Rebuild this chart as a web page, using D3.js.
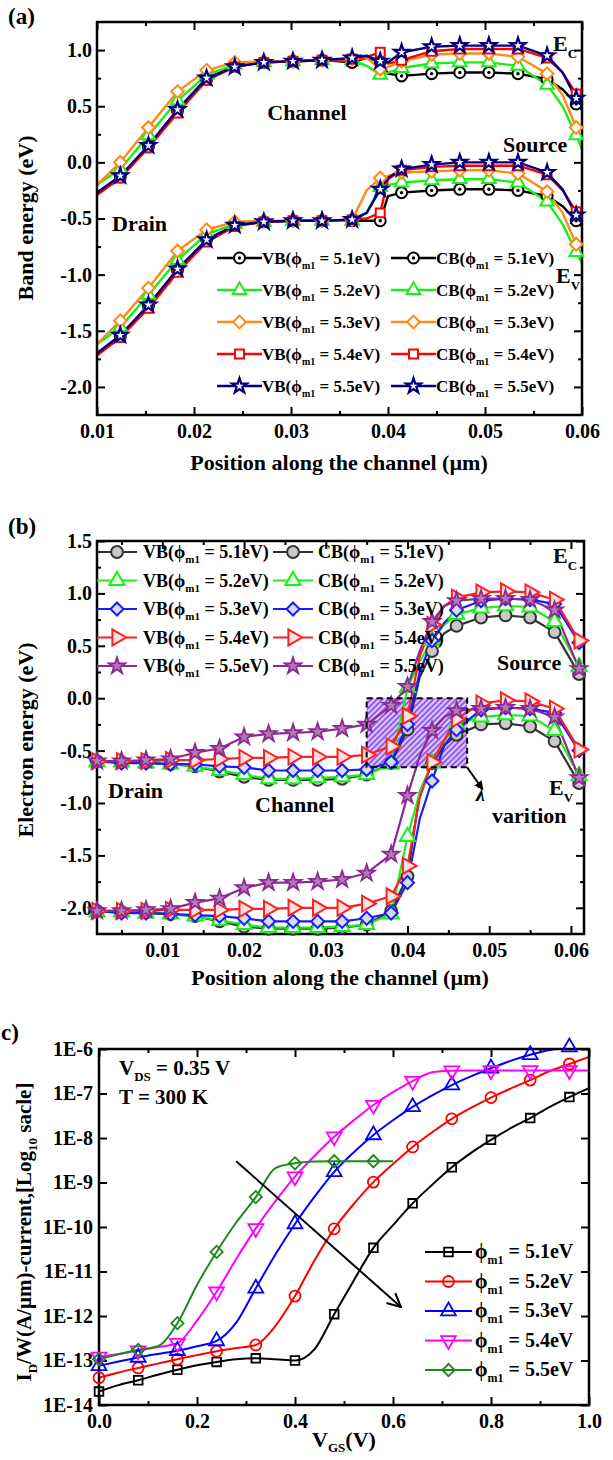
<!DOCTYPE html>
<html>
<head>
<meta charset="utf-8">
<script src="https://cdn.jsdelivr.net/npm/d3@7"></script>
<style>
  body { margin: 0; background: #fff; }
  svg text { font-family: "Liberation Serif", "Times New Roman", Times, serif; font-weight: bold; fill: #000; white-space: pre; }
</style>
</head>
<body>
<div id="chart"></div>
<script>
// ---------- panel (a): band energy vs position ----------
const phiValues = ["5.1", "5.2", "5.3", "5.4", "5.5"];

const posA = [0.0100, 0.0124, 0.0153, 0.0183, 0.0213, 0.0242, 0.0272, 0.0302, 0.0332, 0.0363, 0.0378,
              0.0392, 0.0400, 0.0414, 0.0445, 0.0474, 0.0504, 0.0534, 0.0564, 0.0580, 0.0594, 0.0600];
const markPosA = [0.0124, 0.0153, 0.0183, 0.0213, 0.0242, 0.0272, 0.0302, 0.0332, 0.0363, 0.0392,
                  0.0414, 0.0445, 0.0474, 0.0504, 0.0534, 0.0564, 0.0594];

const cbA51 = [-0.27, -0.13, 0.14, 0.46, 0.74, 0.86, 0.89, 0.90, 0.91, 0.89, 0.93, 0.90, 0.79, 0.77, 0.79, 0.80, 0.80, 0.79, 0.74, 0.65, 0.52, 0.47];
const cbA52 = [-0.20, -0.06, 0.24, 0.55, 0.78, 0.87, 0.89, 0.90, 0.91, 0.91, 0.86, 0.78, 0.80, 0.84, 0.88, 0.89, 0.89, 0.86, 0.69, 0.50, 0.24, 0.12];
const cbA53 = [-0.20, 0.00, 0.31, 0.63, 0.82, 0.89, 0.90, 0.90, 0.91, 0.92, 0.93, 0.83, 0.85, 0.90, 0.96, 0.97, 0.97, 0.94, 0.79, 0.60, 0.31, 0.19];
const cbA54 = [-0.29, -0.14, 0.13, 0.44, 0.73, 0.85, 0.89, 0.90, 0.91, 0.92, 0.94, 0.98, 0.88, 0.91, 0.99, 1.01, 1.01, 1.01, 0.93, 0.80, 0.61, 0.55];
const cbA55 = [-0.27, -0.12, 0.15, 0.47, 0.75, 0.85, 0.89, 0.90, 0.91, 0.93, 0.95, 0.90, 0.89, 0.98, 1.03, 1.04, 1.04, 1.04, 0.95, 0.80, 0.57, 0.52];

const vbA51 = [-1.70, -1.55, -1.28, -0.96, -0.69, -0.56, -0.53, -0.52, -0.52, -0.52, -0.52, -0.52, -0.30, -0.27, -0.25, -0.24, -0.24, -0.25, -0.30, -0.39, -0.52, -0.57];
const vbA52 = [-1.62, -1.47, -1.18, -0.87, -0.64, -0.55, -0.53, -0.52, -0.52, -0.52, -0.45, -0.22, -0.20, -0.18, -0.16, -0.15, -0.15, -0.18, -0.35, -0.55, -0.80, -0.90];
const vbA53 = [-1.62, -1.41, -1.12, -0.79, -0.60, -0.53, -0.52, -0.52, -0.52, -0.51, -0.25, -0.14, -0.12, -0.09, -0.08, -0.07, -0.07, -0.10, -0.26, -0.45, -0.73, -0.85];
const vbA54 = [-1.72, -1.56, -1.30, -0.98, -0.71, -0.57, -0.53, -0.52, -0.52, -0.51, -0.50, -0.45, -0.15, -0.07, -0.04, -0.03, -0.03, -0.03, -0.11, -0.25, -0.44, -0.50];
const vbA55 = [-1.70, -1.54, -1.27, -0.95, -0.69, -0.56, -0.53, -0.52, -0.52, -0.51, -0.45, -0.24, -0.14, -0.06, -0.02, 0.00, 0.00, 0.00, -0.09, -0.24, -0.47, -0.52];

// ---------- panel (b): electron energy vs position ----------
const posB = [0.002, 0.005, 0.008, 0.011, 0.014, 0.017, 0.020, 0.023, 0.026, 0.029, 0.032, 0.035,
              0.038, 0.040, 0.0415, 0.043, 0.0445, 0.046, 0.049, 0.052, 0.055, 0.058, 0.061];
const markPosB = [0.002, 0.005, 0.008, 0.011, 0.014, 0.017, 0.020, 0.023, 0.026, 0.029, 0.032, 0.035,
                  0.038, 0.040, 0.043, 0.046, 0.049, 0.052, 0.055, 0.058, 0.061];

const cbB51 = [-0.60, -0.61, -0.61, -0.63, -0.65, -0.70, -0.75, -0.78, -0.78, -0.78, -0.77, -0.73, -0.62, -0.30, 0.20, 0.45, 0.62, 0.69, 0.77, 0.79, 0.77, 0.63, 0.23];
const cbB52 = [-0.61, -0.61, -0.62, -0.63, -0.65, -0.69, -0.73, -0.77, -0.77, -0.76, -0.75, -0.73, -0.63, 0.10, 0.35, 0.55, 0.70, 0.80, 0.86, 0.88, 0.87, 0.73, 0.30];
const cbB53 = [-0.60, -0.62, -0.62, -0.63, -0.63, -0.65, -0.66, -0.69, -0.69, -0.69, -0.69, -0.68, -0.61, -0.25, 0.25, 0.55, 0.72, 0.84, 0.93, 0.95, 0.94, 0.90, 0.53];
const cbB54 = [-0.60, -0.60, -0.60, -0.59, -0.59, -0.58, -0.57, -0.57, -0.56, -0.56, -0.56, -0.54, -0.46, -0.17, 0.40, 0.70, 0.88, 0.96, 1.01, 1.02, 1.01, 0.94, 0.55];
const cbB55 = [-0.60, -0.60, -0.59, -0.58, -0.52, -0.48, -0.37, -0.34, -0.33, -0.32, -0.29, -0.25, -0.07, 0.11, 0.45, 0.73, 0.88, 0.93, 0.95, 0.95, 0.94, 0.84, 0.28];

const vbB51 = [-2.03, -2.04, -2.04, -2.06, -2.08, -2.13, -2.18, -2.20, -2.20, -2.20, -2.19, -2.16, -2.03, -1.70, -0.90, -0.62, -0.45, -0.35, -0.25, -0.24, -0.27, -0.41, -0.81];
const vbB52 = [-2.04, -2.04, -2.05, -2.06, -2.08, -2.12, -2.16, -2.19, -2.19, -2.19, -2.18, -2.16, -2.06, -1.32, -0.90, -0.62, -0.40, -0.25, -0.18, -0.16, -0.17, -0.31, -0.74];
const vbB53 = [-2.03, -2.05, -2.05, -2.06, -2.07, -2.08, -2.10, -2.13, -2.13, -2.13, -2.13, -2.10, -2.05, -1.76, -1.15, -0.79, -0.45, -0.30, -0.11, -0.09, -0.10, -0.14, -0.50];
const vbB54 = [-2.03, -2.03, -2.03, -2.02, -2.02, -2.02, -2.01, -2.01, -2.00, -2.00, -2.00, -1.96, -1.89, -1.60, -0.95, -0.61, -0.40, -0.20, -0.05, -0.02, -0.03, -0.10, -0.49];
const vbB55 = [-2.03, -2.03, -2.02, -2.01, -1.95, -1.91, -1.81, -1.76, -1.76, -1.75, -1.73, -1.67, -1.49, -0.93, -0.55, -0.31, -0.18, -0.12, -0.10, -0.09, -0.10, -0.18, -0.76];

// hatched lambda region and its arrow (data coordinates)
const lambdaBox = { x0: 0.035, x1: 0.0473, y0: -0.66, y1: 0.0 };
const lambdaArrow = { x0: 0.0473, y0: -0.66, x1: 0.0492, y1: -0.87 };

// ---------- panel (c): drain current vs gate voltage ----------
const vgs = [0.00, 0.04, 0.08, 0.12, 0.16, 0.20, 0.24, 0.28, 0.32, 0.36, 0.40, 0.44, 0.48,
             0.52, 0.56, 0.60, 0.64, 0.68, 0.72, 0.76, 0.80, 0.84, 0.88, 0.92, 0.96, 1.00];
const vgsMarks = [0.00, 0.08, 0.16, 0.24, 0.32, 0.40, 0.48, 0.56, 0.64, 0.72, 0.80, 0.88, 0.96];

const id51 = [2.0e-14, 2.8e-14, 3.6e-14, 4.8e-14, 6.2e-14, 7.8e-14, 9.3e-14, 1.07e-13, 1.12e-13, 1.07e-13, 1.0e-13, 1.8e-13, 1.1e-12,
              6.3e-12, 3.4e-11, 1.1e-10, 3.4e-10, 8.9e-10, 2.2e-9, 4.7e-9, 9.1e-9, 1.66e-8, 2.8e-8, 5.0e-8, 8.3e-8, 1.32e-7];
const id52 = [4.1e-14, 5.4e-14, 6.8e-14, 8.5e-14, 1.07e-13, 1.32e-13, 1.62e-13, 1.9e-13, 2.24e-13, 6.0e-13, 2.8e-12, 1.8e-11, 9.1e-11,
              3.3e-10, 1.02e-9, 2.6e-9, 6.3e-9, 1.35e-8, 2.7e-8, 4.8e-8, 8.1e-8, 1.29e-7, 2.0e-7, 3.2e-7, 4.6e-7, 6.6e-7];
const id53 = [7.6e-14, 9.5e-14, 1.17e-13, 1.4e-13, 1.66e-13, 2.1e-13, 2.75e-13, 7.1e-13, 4.2e-12, 2.4e-11, 1.17e-10, 4.8e-10, 1.74e-9,
              4.8e-9, 1.17e-8, 2.5e-8, 5.0e-8, 9.1e-8, 1.55e-7, 2.45e-7, 3.7e-7, 5.4e-7, 7.4e-7, 9.5e-7, 1.1e-6, 1.07e-6];
const id54 = [1.2e-13, 1.4e-13, 1.66e-13, 2.0e-13, 2.45e-13, 7.9e-13, 3.5e-12, 1.9e-11, 9.3e-11, 3.8e-10, 1.35e-9, 4.0e-9, 1.07e-8,
              2.5e-8, 5.5e-8, 1.07e-7, 1.9e-7, 3.0e-7, 3.25e-7, 3.3e-7, 3.3e-7, 3.3e-7, 3.3e-7, 3.3e-7, 3.3e-7, 3.3e-7];
const id55 = [1.07e-13, 1.38e-13, 1.74e-13, 2.1e-13, 6.9e-13, 5.0e-12, 2.75e-11, 1.26e-10, 4.7e-10, 2.1e-9, 2.7e-9, 2.95e-9, 3.0e-9,
              3.0e-9, 3.0e-9, 3.0e-9, null, null, null, null, null, null, null, null, null, null];

const trendArrow = { x0: 0.28, y0: 3.0e-9, x1: 0.616, y1: 1.6e-12 };

// ---------- drawing helpers ----------
const svg = d3.select("#chart").append("svg").attr("width", 613).attr("height", 1460);
const defs = svg.append("defs");

const symbolTypes = {
  circle: d3.symbolCircle, circleDot: d3.symbolCircle, triUp: d3.symbolTriangle,
  triDown: d3.symbolTriangle, triRight: d3.symbolTriangle, diamond: d3.symbolSquare,
  square: d3.symbolSquare, star: d3.symbolStar
};
const symbolRotate = { triDown: 180, triRight: 90, diamond: 45 };

function addMarker(parent, m, cx, cy) {
  const g = parent.append("g").attr("transform", `translate(${cx},${cy})`);
  g.append("path")
    .attr("d", d3.symbol().type(symbolTypes[m.shape]).size(m.size)())
    .attr("transform", `rotate(${symbolRotate[m.shape] || 0})`)
    .attr("fill", m.fill).attr("stroke", m.color).attr("stroke-width", m.sw);
  if (m.shape === "circleDot") g.append("circle").attr("r", 1.7).attr("fill", m.color);
  return g;
}

// text made of parts, each [string, isSubscript]
function rich(parent, parts, size, shift) {
  const t = parent.append("text").attr("font-size", size);
  let cur = 0;
  parts.forEach(([s, sub]) => {
    const sp = t.append("tspan").text(s);
    const target = sub ? shift : 0;
    if (target !== cur) sp.attr("dy", target - cur);
    cur = target;
    if (sub) sp.attr("font-size", Math.round(size * 0.6));
  });
  return t;
}

function drawPanel(cfg) {
  const g = svg.append("g");
  const x = d3.scaleLinear().domain(cfg.xDomain).range([cfg.left, cfg.right]);
  const y = (cfg.logY ? d3.scaleLog() : d3.scaleLinear()).domain(cfg.yDomain).range([cfg.bottom, cfg.top]);

  defs.append("clipPath").attr("id", "clip-" + cfg.id).append("rect")
    .attr("x", cfg.left).attr("y", cfg.top)
    .attr("width", cfg.right - cfg.left).attr("height", cfg.bottom - cfg.top);

  const noDomain = s => s.select(".domain").remove();
  const styleTicks = s => {
    s.selectAll("line").attr("stroke-width", 2);
    s.selectAll("text").attr("font-size", cfg.tickFont);
  };
  const ax = g.append("g");
  // bottom with labels, top mirrored
  ax.append("g").attr("transform", `translate(0,${cfg.bottom})`)
    .call(d3.axisBottom(x).tickValues(cfg.xTicks).tickSizeInner(-8).tickSizeOuter(0).tickPadding(cfg.xPad).tickFormat(cfg.xFormat))
    .call(noDomain).call(styleTicks);
  ax.append("g").attr("transform", `translate(0,${cfg.bottom})`)
    .call(d3.axisBottom(x).tickValues(cfg.xMinor).tickSize(-4).tickFormat(""))
    .call(noDomain).call(styleTicks);
  ax.append("g").attr("transform", `translate(0,${cfg.top})`)
    .call(d3.axisTop(x).tickValues(cfg.xTicks).tickSize(-8).tickFormat(""))
    .call(noDomain).call(styleTicks);
  ax.append("g").attr("transform", `translate(0,${cfg.top})`)
    .call(d3.axisTop(x).tickValues(cfg.xMinor).tickSize(-4).tickFormat(""))
    .call(noDomain).call(styleTicks);
  // left with labels, right mirrored
  ax.append("g").attr("transform", `translate(${cfg.left},0)`)
    .call(d3.axisLeft(y).tickValues(cfg.yTicks).tickSizeInner(-8).tickSizeOuter(0).tickPadding(cfg.yPad).tickFormat(cfg.yFormat))
    .call(noDomain).call(styleTicks);
  ax.append("g").attr("transform", `translate(${cfg.right},0)`)
    .call(d3.axisRight(y).tickValues(cfg.yTicks).tickSize(-8).tickFormat(""))
    .call(noDomain).call(styleTicks);
  if (cfg.yMinor.length) {
    ax.append("g").attr("transform", `translate(${cfg.left},0)`)
      .call(d3.axisLeft(y).tickValues(cfg.yMinor).tickSize(-4).tickFormat(""))
      .call(noDomain).call(styleTicks);
    ax.append("g").attr("transform", `translate(${cfg.right},0)`)
      .call(d3.axisRight(y).tickValues(cfg.yMinor).tickSize(-4).tickFormat(""))
      .call(noDomain).call(styleTicks);
  }

  const plot = g.append("g").attr("clip-path", `url(#clip-${cfg.id})`);
  const frame = g.append("rect")
    .attr("x", cfg.left).attr("y", cfg.top)
    .attr("width", cfg.right - cfg.left).attr("height", cfg.bottom - cfg.top)
    .attr("fill", "none").attr("stroke", "#000").attr("stroke-width", 2.5);

  return { g, x, y, plot, frame };
}

function drawSeries(p, xs, ys, marks, st, curve) {
  const pts = xs.map((v, i) => [v, ys[i]]);
  const line = d3.line().defined(d => d[1] != null)
    .x(d => p.x(d[0])).y(d => p.y(d[1])).curve(curve || d3.curveLinear);
  p.plot.append("path").attr("d", line(pts))
    .attr("fill", "none").attr("stroke", st.color).attr("stroke-width", st.lw).attr("stroke-linejoin", "round");
  pts.filter(d => d[1] != null && marks.includes(d[0]))
    .forEach(d => addMarker(p.g, st, p.x(d[0]), p.y(d[1])));
}

const fix = n => v => v.toFixed(n);

// ================= PANEL (a) =================
const pa = drawPanel({
  id: "a", left: 97, right: 582, top: 22, bottom: 415,
  xDomain: [0.01, 0.06], yDomain: [-2.25, 1.25],
  xTicks: [0.01, 0.02, 0.03, 0.04, 0.05, 0.06], xMinor: [0.015, 0.025, 0.035, 0.045, 0.055],
  yTicks: [-2.0, -1.5, -1.0, -0.5, 0.0, 0.5, 1.0], yMinor: [-1.75, -1.25, -0.75, -0.25, 0.25, 0.75],
  xFormat: fix(2), yFormat: fix(1), xPad: 9, yPad: 5, tickFont: 20
});

const styleA = [
  { color: "#000000", shape: "circleDot", size: 95, fill: "#fff", sw: 2, lw: 2.4 },
  { color: "#19ef19", shape: "triUp", size: 80, fill: "#fff", sw: 2, lw: 2.4 },
  { color: "#ff8a14", shape: "diamond", size: 80, fill: "#fff", sw: 2, lw: 2.4 },
  { color: "#ff0000", shape: "square", size: 80, fill: "#fff", sw: 2, lw: 2.4 },
  { color: "#000080", shape: "star", size: 70, fill: "#fff", sw: 2.2, lw: 2.4 }
];
const cbA = [cbA51, cbA52, cbA53, cbA54, cbA55];
const vbA = [vbA51, vbA52, vbA53, vbA54, vbA55];
phiValues.forEach((phi, i) => {
  drawSeries(pa, posA, vbA[i], markPosA, styleA[i]);
  drawSeries(pa, posA, cbA[i], markPosA, styleA[i]);
});

svg.append("text").attr("x", 8).attr("y", 24).attr("font-size", 23).text("(a)");
svg.append("text").attr("x", 307).attr("y", 120).attr("font-size", 22).attr("text-anchor", "middle").text("Channel");
svg.append("text").attr("x", 112).attr("y", 231).attr("font-size", 22).text("Drain");
svg.append("text").attr("x", 503).attr("y", 152).attr("font-size", 22).text("Source");
rich(svg, [["E", false], ["C", true]], 22, 7).attr("x", 553).attr("y", 51);
rich(svg, [["E", false], ["V", true]], 22, 7).attr("x", 556).attr("y", 283);
svg.append("text").attr("font-size", 22).attr("text-anchor", "middle")
  .attr("transform", "translate(33,218) rotate(-90)").text("Band energy (eV)");
svg.append("text").attr("x", 339).attr("y", 470).attr("font-size", 22).attr("text-anchor", "middle")
  .text("Position along the channel (\u00b5m)");

// legend (a)
const legA = svg.append("g");
phiValues.forEach((phi, i) => {
  const yy = 258 + 32 * i;
  [["VB", 217, 262], ["CB", 391, 436]].forEach(([band, x0, tx]) => {
    legA.append("line").attr("x1", x0).attr("x2", x0 + 45).attr("y1", yy).attr("y2", yy)
      .attr("stroke", styleA[i].color).attr("stroke-width", 2.4);
    addMarker(legA, styleA[i], x0 + 22.5, yy);
    rich(legA, [[band + "(\u03d5", false], ["m1", true], [" = " + phi + "eV)", false]], 17, 5)
      .attr("x", tx).attr("y", yy + 6);
  });
});

// ================= PANEL (b) =================
const pb = drawPanel({
  id: "b", left: 97, right: 584, top: 541, bottom: 934,
  xDomain: [0.002, 0.0616], yDomain: [-2.25, 1.5],
  xTicks: [0.01, 0.02, 0.03, 0.04, 0.05, 0.06], xMinor: [0.005, 0.015, 0.025, 0.035, 0.045, 0.055],
  yTicks: [-2.0, -1.5, -1.0, -0.5, 0.0, 0.5, 1.0, 1.5], yMinor: [-1.75, -1.25, -0.75, -0.25, 0.25, 0.75, 1.25],
  xFormat: fix(2), yFormat: fix(1), xPad: 9, yPad: 5, tickFont: 20
});

// hatch pattern for the lambda region
const hatch = defs.append("pattern").attr("id", "hatch").attr("patternUnits", "userSpaceOnUse")
  .attr("width", 4).attr("height", 4).attr("patternTransform", "rotate(45)");
hatch.append("rect").attr("width", 4).attr("height", 4).attr("fill", "#d9c8fb");
hatch.append("line").attr("x1", 1).attr("x2", 1).attr("y1", 0).attr("y2", 4)
  .attr("stroke", "#8440e6").attr("stroke-width", 1.6);
pb.plot.append("rect")
  .attr("x", pb.x(lambdaBox.x0)).attr("y", pb.y(lambdaBox.y1))
  .attr("width", pb.x(lambdaBox.x1) - pb.x(lambdaBox.x0)).attr("height", pb.y(lambdaBox.y0) - pb.y(lambdaBox.y1))
  .attr("fill", "url(#hatch)");

const styleB = [
  { color: "#333333", shape: "circle", size: 110, fill: "#c8c8c8", sw: 2, lw: 2.2 },
  { color: "#1eee1e", shape: "triUp", size: 100, fill: "#e4fbe4", sw: 2, lw: 2.2 },
  { color: "#1a1aff", shape: "diamond", size: 85, fill: "#d4dbf2", sw: 2, lw: 2.2 },
  { color: "#ff2020", shape: "triRight", size: 110, fill: "#fbe1e1", sw: 2, lw: 2.2 },
  { color: "#8b2a93", shape: "star", size: 85, fill: "#b27bb8", sw: 1.8, lw: 2.2 }
];
const cbB = [cbB51, cbB52, cbB53, cbB54, cbB55];
const vbB = [vbB51, vbB52, vbB53, vbB54, vbB55];
phiValues.forEach((phi, i) => {
  drawSeries(pb, posB, vbB[i], markPosB, styleB[i]);
  drawSeries(pb, posB, cbB[i], markPosB, styleB[i]);
});

pb.g.append("rect")
  .attr("x", pb.x(lambdaBox.x0)).attr("y", pb.y(lambdaBox.y1))
  .attr("width", pb.x(lambdaBox.x1) - pb.x(lambdaBox.x0)).attr("height", pb.y(lambdaBox.y0) - pb.y(lambdaBox.y1))
  .attr("fill", "none").attr("stroke", "#000").attr("stroke-width", 2).attr("stroke-dasharray", "6,4");

defs.append("marker").attr("id", "headFilled").attr("viewBox", "0 -5 10 10")
  .attr("refX", 9).attr("refY", 0).attr("markerWidth", 9).attr("markerHeight", 9)
  .attr("markerUnits", "userSpaceOnUse").attr("orient", "auto")
  .append("path").attr("d", "M0,-5L10,0L0,5Z").attr("fill", "#000");
pb.g.append("line")
  .attr("x1", pb.x(lambdaArrow.x0)).attr("y1", pb.y(lambdaArrow.y0))
  .attr("x2", pb.x(lambdaArrow.x1)).attr("y2", pb.y(lambdaArrow.y1))
  .attr("stroke", "#000").attr("stroke-width", 1.8).attr("marker-end", "url(#headFilled)");

svg.append("text").attr("x", 8).attr("y", 534).attr("font-size", 23).text("(b)");
rich(svg, [["E", false], ["C", true]], 22, 7).attr("x", 553).attr("y", 563);
rich(svg, [["E", false], ["V", true]], 22, 7).attr("x", 549).attr("y", 795);
svg.append("text").attr("x", 497).attr("y", 670).attr("font-size", 22).text("Source");
svg.append("text").attr("x", 108).attr("y", 798).attr("font-size", 22).text("Drain");
svg.append("text").attr("x", 255).attr("y", 812).attr("font-size", 22).text("Channel");
svg.append("text").attr("x", 476).attr("y", 801).attr("font-size", 20).attr("font-weight", "normal")
  .attr("font-style", "italic").text("\u03bb");
svg.append("text").attr("x", 492).attr("y", 823).attr("font-size", 22).text("varition");
svg.append("text").attr("font-size", 22).attr("text-anchor", "middle")
  .attr("transform", "translate(33,740) rotate(-90)").text("Electron energy (eV)");
svg.append("text").attr("x", 340).attr("y", 985).attr("font-size", 22).attr("text-anchor", "middle")
  .text("Position along the channel (\u00b5m)");

// legend (b)
const legB = svg.append("g");
phiValues.forEach((phi, i) => {
  const yy = 552 + 28.5 * i;
  [["VB", 97, 143], ["CB", 273, 318]].forEach(([band, x0, tx]) => {
    legB.append("line").attr("x1", x0).attr("x2", x0 + 40).attr("y1", yy).attr("y2", yy)
      .attr("stroke", styleB[i].color).attr("stroke-width", 2.2);
    addMarker(legB, styleB[i], x0 + 20, yy);
    rich(legB, [[band + "(\u03d5", false], ["m1", true], [" = " + phi + "eV)", false]], 18, 5)
      .attr("x", tx).attr("y", yy + 6);
  });
});

// ================= PANEL (c) =================
const pc = drawPanel({
  id: "c", left: 99, right: 589, top: 1049, bottom: 1405,
  xDomain: [0, 1], yDomain: [1e-14, 1e-6], logY: true,
  xTicks: [0, 0.2, 0.4, 0.6, 0.8, 1.0], xMinor: [0.1, 0.3, 0.5, 0.7, 0.9],
  yTicks: [1e-14, 1e-13, 1e-12, 1e-11, 1e-10, 1e-9, 1e-8, 1e-7, 1e-6], yMinor: [],
  xFormat: fix(1), yFormat: v => "1E" + Math.round(Math.log10(v)), xPad: 9, yPad: 6, tickFont: 20
});

const styleC = [
  { color: "#000000", shape: "square", size: 75, fill: "none", sw: 1.8, lw: 2 },
  { color: "#ff0000", shape: "circle", size: 95, fill: "none", sw: 1.8, lw: 2 },
  { color: "#0000ff", shape: "triUp", size: 95, fill: "none", sw: 1.8, lw: 2 },
  { color: "#ff00ff", shape: "triDown", size: 95, fill: "none", sw: 1.8, lw: 2 },
  { color: "#1b8a1b", shape: "diamond", size: 75, fill: "none", sw: 1.8, lw: 2 }
];
const idC = [id51, id52, id53, id54, id55];
phiValues.forEach((phi, i) => drawSeries(pc, vgs, idC[i], vgsMarks, styleC[i], d3.curveMonotoneX));

defs.append("marker").attr("id", "headOpen").attr("viewBox", "-1 -6 12 12")
  .attr("refX", 10).attr("refY", 0).attr("markerWidth", 16).attr("markerHeight", 16)
  .attr("markerUnits", "userSpaceOnUse").attr("orient", "auto")
  .append("path").attr("d", "M0,-5L10,0L0,5").attr("fill", "none").attr("stroke", "#000").attr("stroke-width", 1.6);
pc.g.append("line")
  .attr("x1", pc.x(trendArrow.x0)).attr("y1", pc.y(trendArrow.y0))
  .attr("x2", pc.x(trendArrow.x1)).attr("y2", pc.y(trendArrow.y1))
  .attr("stroke", "#000").attr("stroke-width", 2).attr("marker-end", "url(#headOpen)");

svg.append("text").attr("x", 1).attr("y", 1040).attr("font-size", 23).text("c)");
rich(svg, [["V", false], ["DS", true], [" = 0.35 V", false]], 21, 6).attr("x", 119).attr("y", 1075);
svg.append("text").attr("x", 119).attr("y", 1104).attr("font-size", 21).text("T = 300 K");
rich(svg, [["I", false], ["D", true], ["/W(A/\u00b5m)-current,[Log", false], ["10", true], [" sacle]", false]], 21, 6)
  .attr("text-anchor", "middle").attr("transform", "translate(31,1232) rotate(-90)");
rich(svg, [["V", false], ["GS", true], ["(V)", false]], 22, 5)
  .attr("x", 344).attr("y", 1447).attr("text-anchor", "middle");

// legend (c)
const legC = svg.append("g");
phiValues.forEach((phi, i) => {
  const yy = 1252 + 29.5 * i;
  legC.append("line").attr("x1", 425).attr("x2", 472).attr("y1", yy).attr("y2", yy)
    .attr("stroke", styleC[i].color).attr("stroke-width", 2);
  addMarker(legC, styleC[i], 448.5, yy);
  rich(legC, [["\u03d5", false], ["m1", true], [" = " + phi + "eV", false]], 20, 6)
    .attr("x", 475).attr("y", yy + 6);
});
</script>
</body>
</html>
